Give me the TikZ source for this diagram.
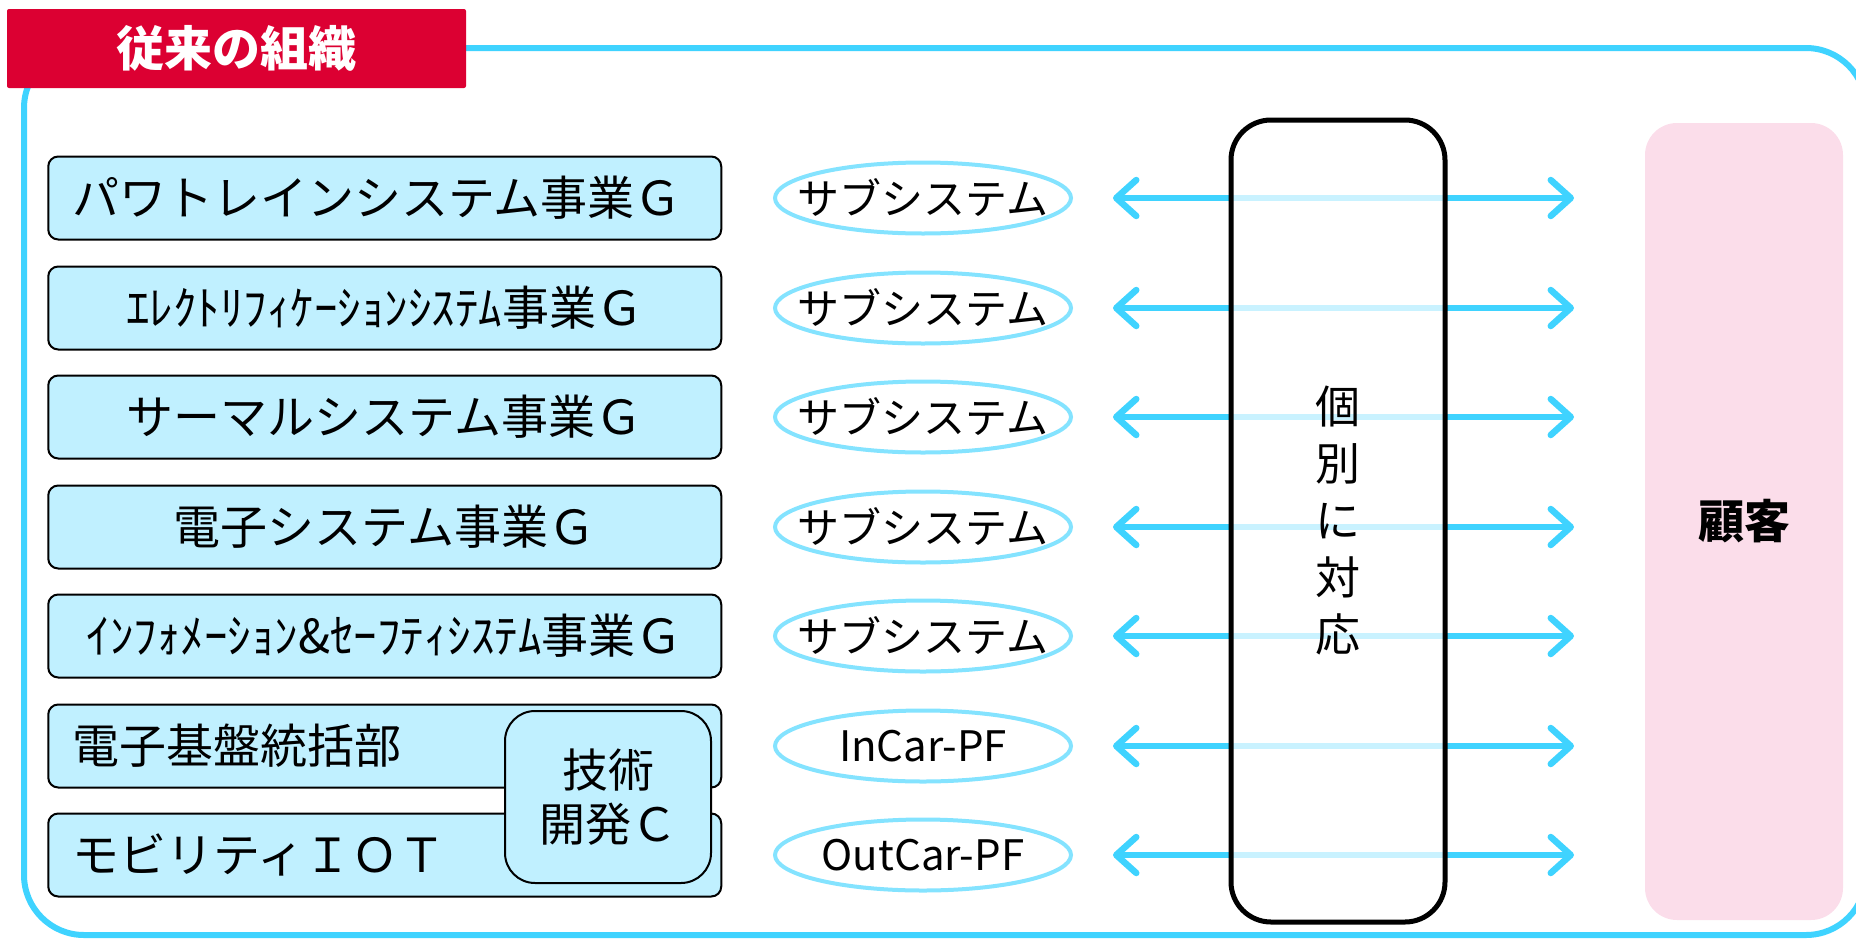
\documentclass[tikz,border=0pt]{standalone}
\usepackage{fontspec}
\setmainfont{Noto Sans CJK JP}
\usetikzlibrary{arrows.meta,shapes.geometric}
\definecolor{outerblue}{HTML}{3FD3FF}
\definecolor{titlered}{HTML}{DC0032}
\definecolor{boxblue}{HTML}{C0F0FF}
\definecolor{ellblue}{HTML}{84E3FF}
\definecolor{arrblue}{HTML}{3FD3FF}
\definecolor{custpink}{HTML}{FBDDEA}
\tikzset{
  lbox/.style={draw=black, line width=2pt, fill=boxblue, rounded corners=10pt,
    minimum width=673pt, minimum height=83pt, inner sep=0pt,
    font=\fontsize{47}{54}\selectfont},
  lboxl/.style={lbox, text width=625pt, align=left},
  subsys/.style={ellipse, draw=ellblue, line width=4pt, fill=white,
    minimum width=296pt, minimum height=71pt, inner sep=0pt},
  subtxt/.style={inner sep=0pt, font=\fontsize{42}{48}\selectfont},
  biarrow/.style={draw=arrblue, line width=6.5pt,
    {Straight Barb[length=20pt,width=36pt,line cap=round,line join=round]}-{Straight Barb[length=20pt,width=36pt,line cap=round,line join=round]}}
}
\begin{document}
\begin{tikzpicture}[x=1pt,y=-1pt]
\useasboundingbox (0,0) rectangle (1856,940);
% outer frame
\draw[outerblue, line width=6pt, rounded corners=60pt] (24,48) rectangle (1866,935);
% title
\node[fill=titlered, rounded corners=2pt, minimum width=459pt, minimum height=79pt,
  inner sep=0pt, text=white, font=\fontsize{48}{52}\selectfont\bfseries]
  (title) at (236.5,48.5) {従来の組織};
% left boxes
\node[lboxl] (g1) at (384.75,198) {パワトレインシステム事業Ｇ};
\node[lbox] (g2) at (384.75,308) {ｴﾚｸﾄﾘﾌｨｹｰｼｮﾝｼｽﾃﾑ事業Ｇ};
\node[lbox] (g3) at (384.75,417) {サーマルシステム事業Ｇ};
\node[lbox] (g4) at (384.75,527) {電子システム事業Ｇ};
\node[lbox] (g5) at (384.75,636) {ｲﾝﾌｫﾒｰｼｮﾝ\&ｾｰﾌﾃｨｼｽﾃﾑ事業Ｇ};
\node[lboxl] (g6) at (384.75,746) {電子基盤統括部};
\node[lboxl] (g7) at (384.75,855) {モビリティＩＯＴ};
\node[lbox, rounded corners=30pt, minimum width=206pt, minimum height=172pt,
  align=center, font=\fontsize{46}{54}\selectfont] (tech) at (608,797) {技術\\開発Ｃ};
% arrows
\foreach \y [count=\i] in {198,308,417,527,636,746,855}{
  \coordinate (aL\i) at (1113,\y);
  \coordinate (aR\i) at (1574,\y);
  \draw[biarrow] (aL\i) -- (aR\i);
}
% subsystems
\foreach \y/\t [count=\i] in {198/サブシステム,308/サブシステム,417/サブシステム,527/サブシステム,636/サブシステム,746/InCar-PF,855/OutCar-PF}{
  \node[subsys] (s\i) at (923,\y) {};
  \node[subtxt] (st\i) at (s\i.center) {\t};
}
% individual handling box
\node[draw=black, line width=5pt, fill=white, fill opacity=0.72, text opacity=1,
  rounded corners=40pt, minimum width=214pt, minimum height=802pt, inner sep=0pt,
  align=center, font=\fontsize{45}{57}\selectfont] (ind) at (1338,521) {個\\別\\に\\対\\応};
% customer
\node[fill=custpink, rounded corners=32pt, minimum width=198pt, minimum height=797pt,
  inner sep=0pt, font=\fontsize{46}{50}\selectfont\bfseries] (cust) at (1744,521.5) {顧客};
\end{tikzpicture}
\end{document}
